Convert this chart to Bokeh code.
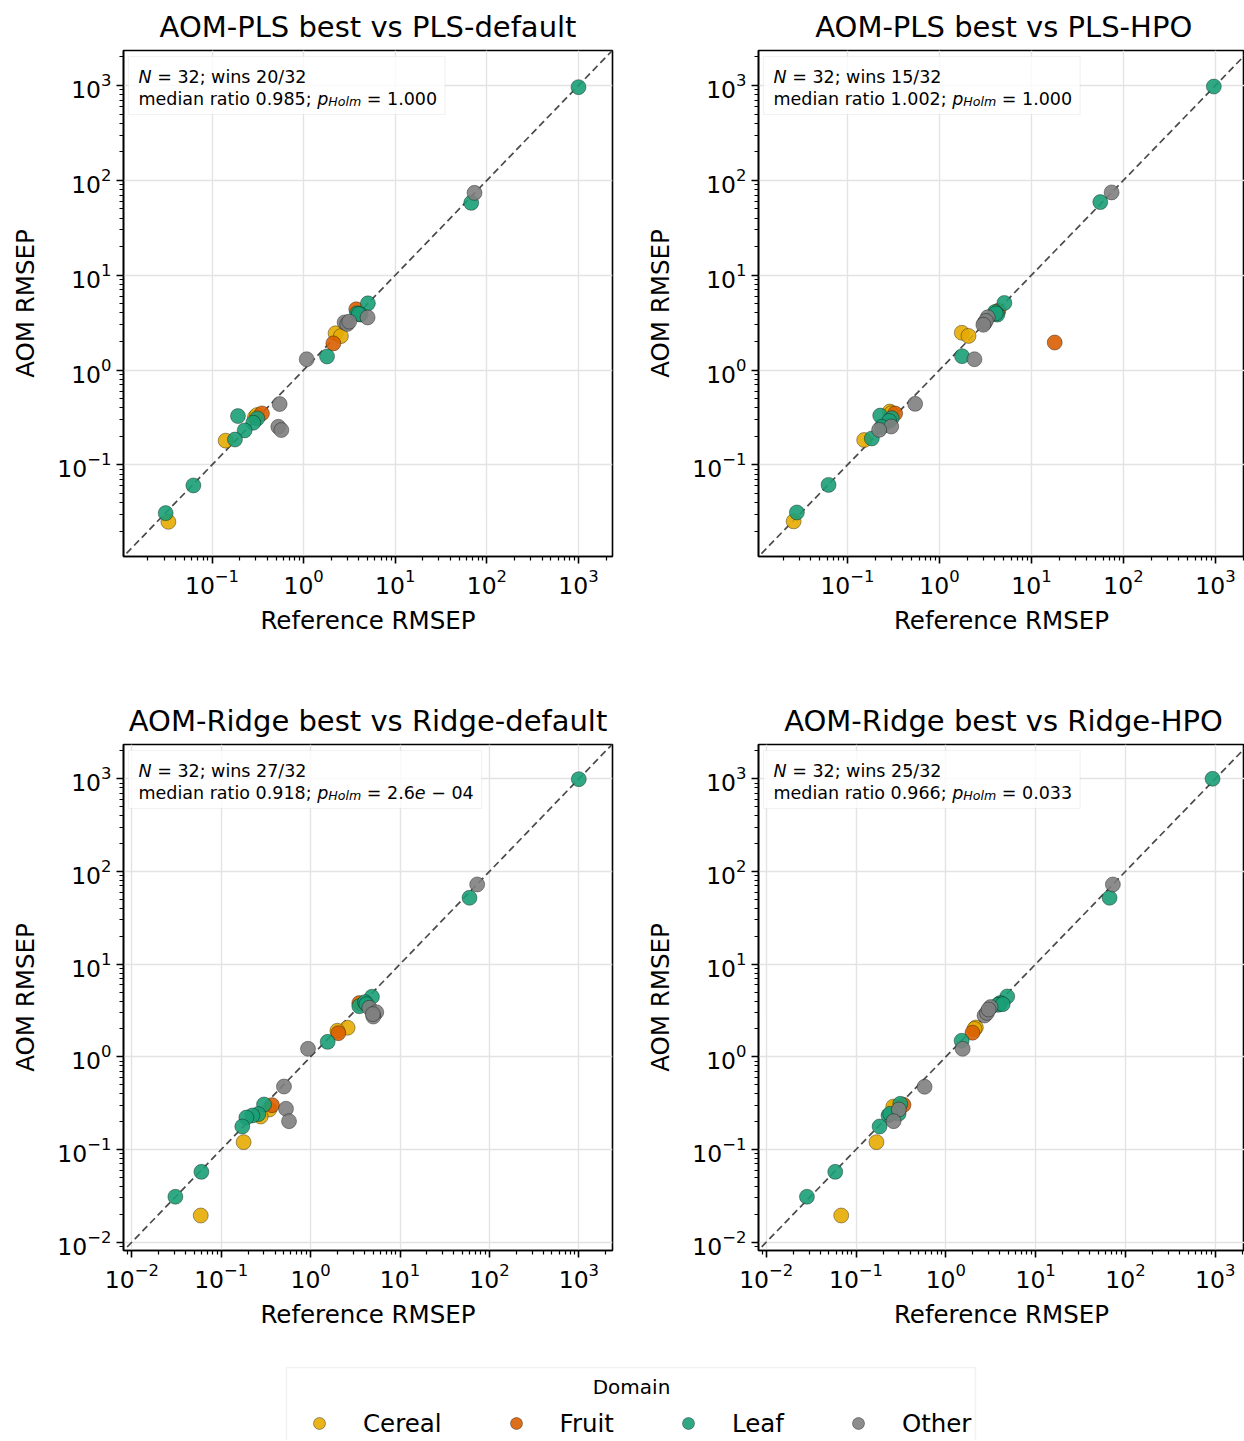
from bokeh.plotting import figure
from bokeh.models import (Range1d, FixedTicker, Label, BoxAnnotation, Legend,
                          LegendItem, ColumnDataSource)
from bokeh.layouts import column, row
from bokeh.embed import file_html
from bokeh.resources import INLINE

FONT = "DejaVu Sans"
DOMAINS = ["Cereal", "Fruit", "Leaf", "Other"]
COLORS = ["#E6AB02", "#D95F02", "#1B9E77", "#808080"]

TITLES = ["AOM-PLS best vs PLS-default", "AOM-PLS best vs PLS-HPO",
          "AOM-Ridge best vs Ridge-default", "AOM-Ridge best vs Ridge-HPO"]
N_DATASETS = ["32", "32", "32", "32"]
WINS = ["20/32", "15/32", "27/32", "25/32"]
MEDIAN_RATIO = ["0.985", "1.002", "0.918", "0.966"]
P_HOLM = ["1.000", "1.000", "2.6*e* \u2212 04", "0.033"]

C, F, L, O = "Cereal", "Fruit", "Leaf", "Other"

# ---- AOM-PLS best vs PLS-default
pls_def_ref = [2.23, 2.55, 0.294, 0.31, 0.141, 0.0334,
               3.75, 2.11, 0.351,
               1000, 67.5, 5.03, 3.84, 4.19, 4.0, 1.80, 0.192, 0.312, 0.282, 0.227, 0.178, 0.0626, 0.0312,
               73.3, 4.99, 2.80, 2.99, 3.15, 1.08, 0.547, 0.529, 0.571]
pls_def_aom = [2.44, 2.28, 0.317, 0.335, 0.180, 0.0251,
               4.37, 1.91, 0.349,
               961, 57.9, 5.05, 3.96, 3.84, 3.9, 1.39, 0.327, 0.309, 0.278, 0.231, 0.185, 0.0607, 0.031,
               73.8, 3.59, 3.18, 3.06, 3.24, 1.30, 0.438, 0.252, 0.233]
pls_def_dom = [C] * 6 + [F] * 3 + [L] * 14 + [O] * 9

# ---- AOM-PLS best vs PLS-HPO
pls_hpo_ref = [1.75, 2.07, 0.289, 0.30, 0.152, 0.026,
               4.37, 17.9, 0.330,
               961, 56.0, 5.08, 4.26, 4.02, 4.1, 1.76, 0.227, 0.303, 0.284, 0.236, 0.184, 0.0623, 0.0282,
               74.4, 3.35, 3.08, 3.2, 3.0, 2.40, 0.544, 0.299, 0.221]
pls_hpo_aom = [2.47, 2.29, 0.365, 0.35, 0.183, 0.0254,
               4.23, 1.95, 0.348,
               975, 59.0, 5.10, 3.84, 4.10, 3.95, 1.40, 0.331, 0.311, 0.291, 0.252, 0.190, 0.0615, 0.0315,
               74.6, 3.60, 3.12, 3.3, 3.0, 1.30, 0.440, 0.254, 0.234]
pls_hpo_dom = [C] * 6 + [F] * 3 + [L] * 14 + [O] * 9

# ---- AOM-Ridge best vs Ridge-default
ridge_def_ref = [2.59, 1.99, 0.345, 0.276, 0.178, 0.059,
                 3.50, 2.04, 0.370,
                 998, 59.8, 4.85, 3.50, 4.05, 4.2, 1.55, 0.301, 0.260, 0.223, 0.191, 0.172, 0.060, 0.0307,
                 72.9, 4.53, 5.42, 5.02, 4.97, 0.934, 0.503, 0.530, 0.573]
ridge_def_aom = [2.06, 1.91, 0.270, 0.227, 0.120, 0.0194,
                 3.80, 1.80, 0.301,
                 991, 52.0, 4.44, 3.52, 3.89, 3.7, 1.45, 0.306, 0.241, 0.233, 0.221, 0.177, 0.0574, 0.0309,
                 72.4, 3.38, 3.03, 2.72, 2.89, 1.22, 0.478, 0.275, 0.202]
ridge_def_dom = [C] * 6 + [F] * 3 + [L] * 14 + [O] * 9

# ---- AOM-Ridge best vs Ridge-HPO
ridge_hpo_ref = [2.16, 2.08, 0.273, 0.26, 0.169, 0.0684,
                 1.98, 3.96, 0.338,
                 934, 66.6, 4.83, 4.03, 3.80, 4.3, 1.50, 0.311, 0.298, 0.230, 0.24, 0.183, 0.0587, 0.0284,
                 72.5, 3.15, 2.70, 2.87, 2.99, 1.54, 0.580, 0.30, 0.262]
ridge_hpo_aom = [2.07, 2.00, 0.286, 0.29, 0.120, 0.0194,
                 1.82, 3.71, 0.303,
                 1000, 52.0, 4.48, 3.80, 3.64, 3.7, 1.49, 0.311, 0.243, 0.233, 0.243, 0.177, 0.0574, 0.0309,
                 72.4, 3.44, 2.79, 2.98, 3.24, 1.22, 0.475, 0.270, 0.202]
ridge_hpo_dom = [C] * 6 + [F] * 3 + [L] * 14 + [O] * 9

MAJOR = [1e-2, 1e-1, 1e0, 1e1, 1e2, 1e3]
MINOR = [k * 10.0 ** e for e in range(-3, 4) for k in range(2, 10)]

# DejaVu Sans advance widths (per 1000 em)
WID = {' ': 318, '.': 318, '/': 337, ';': 337, '=': 838, '\u2212': 838, '-': 361,
       'A': 684, 'H': 752, 'L': 557, 'M': 863, 'N': 748, 'O': 787, 'P': 603, 'R': 695,
       'S': 635, 'a': 613, 'b': 635, 'd': 635, 'e': 615, 'f': 352, 'g': 635, 'i': 278,
       'l': 278, 'm': 974, 'n': 634, 'o': 612, 'p': 635, 'r': 411, 's': 521, 't': 392,
       'u': 634, 'v': 592, 'w': 818}


def tw(s, size):
    return sum(WID.get(ch, 636) for ch in s) / 1000.0 * size


def add_rich(p, x, y, segments):
    cx = x
    for text, style, size, dy in segments:
        stripped = text.lstrip(' ')
        cx += tw(text[:len(text) - len(stripped)], size)
        body = stripped.rstrip(' ')
        if body:
            p.add_layout(Label(x=cx, y=y + dy, x_units="screen", y_units="screen",
                               text=body, text_font=FONT, text_font_size=f"{size}px",
                               text_font_style=style, text_baseline="alphabetic",
                               text_align="left", text_color="black"))
        cx += tw(stripped, size)
    return cx - x


def parse_italic(s, size):
    out = []
    for i, part in enumerate(s.split('*')):
        if part:
            out.append((part, "italic" if i % 2 else "normal", size, 0))
    return out


def make_panel(idx, ref, aom, dom, xlo, xhi, ylo, yhi, width, height,
               bl, br, bt, bb, full_span=None):
    fs = 17.5
    p = figure(width=width, height=height, x_axis_type="log", y_axis_type="log",
               x_range=Range1d(10 ** xlo, 10 ** xhi), y_range=Range1d(10 ** ylo, 10 ** yhi),
               min_border_left=bl, min_border_right=br, min_border_top=bt, min_border_bottom=bb,
               toolbar_location=None, output_backend="svg",
               background_fill_color="white", border_fill_color="white")
    p.title.text = TITLES[idx]
    p.title.text_font = FONT
    p.title.text_font_size = "29px"
    p.title.text_font_style = "normal"
    p.title.text_color = "black"
    p.title.standoff = 14
    frame_w = width - bl - br
    if full_span is not None:
        full_w = frame_w * full_span / (xhi - xlo)
        p.title.align = "left"
        p.title.offset = full_w / 2 - tw(TITLES[idx], 29) / 2
    else:
        p.title.align = "center"
    p.outline_line_color = "black"
    p.outline_line_width = 1.6
    p.outline_line_alpha = 1.0

    tick = FixedTicker(ticks=MAJOR, minor_ticks=MINOR)
    for ax in (p.xaxis[0], p.yaxis[0]):
        ax.ticker = tick
        ax.axis_line_width = 1.6
        ax.axis_line_color = "black"
        ax.major_tick_line_width = 1.6
        ax.major_tick_line_color = "black"
        ax.major_tick_out = 7
        ax.major_tick_in = 0
        ax.minor_tick_line_width = 1.2
        ax.minor_tick_line_color = "black"
        ax.minor_tick_out = 4
        ax.minor_tick_in = 0
        ax.major_label_text_font = FONT
        ax.major_label_text_font_size = "23.5px"
        ax.major_label_text_color = "black"
        ax.major_label_standoff = 5
        ax.axis_label_text_font = FONT
        ax.axis_label_text_font_size = "24.5px"
        ax.axis_label_text_font_style = "normal"
        ax.axis_label_text_color = "black"
    p.xaxis[0].axis_label_standoff = 9
    p.yaxis[0].axis_label_standoff = 14
    p.xaxis[0].axis_label = "Reference RMSEP"
    p.yaxis[0].axis_label = "AOM RMSEP"
    for g in (p.xgrid[0], p.ygrid[0]):
        g.ticker = tick
        g.grid_line_color = "#e3e3e3"
        g.grid_line_width = 1.4

    lo = 10 ** min(xlo, ylo) / 2
    hi = 10 ** max(xhi, yhi) * 2
    p.line([lo, hi], [lo, hi], line_color="#4a4a4a", line_width=1.7, line_dash="7 4")

    for d, col in zip(DOMAINS, COLORS):
        xs = [r for r, dd in zip(ref, dom) if dd == d]
        ys = [a for a, dd in zip(aom, dom) if dd == d]
        p.scatter(xs, ys, marker="circle", size=15, fill_color=col, fill_alpha=0.9,
                  line_color="black", line_alpha=0.6, line_width=0.6)

    # stats box
    frame_h = height - bt - bb
    tx = 15
    base1 = frame_h - 26.7
    base2 = frame_h - 48.3
    line1 = [("N", "italic", fs, 0), (" = " + N_DATASETS[idx] + "; wins " + WINS[idx], "normal", fs, 0)]
    line2 = [("median ratio " + MEDIAN_RATIO[idx] + "; ", "normal", fs, 0),
             ("p", "italic", fs, 0), ("Holm", "italic", 12.6, -3)]
    line2 += parse_italic(" = " + P_HOLM[idx], fs)
    w1 = sum(tw(t, s) for t, _, s, _ in line1)
    w2 = sum(tw(t, s) for t, _, s, _ in line2)
    box = BoxAnnotation(left=5, right=tx + max(w1, w2) + 8, top=frame_h - 6, bottom=frame_h - 64,
                        left_units="screen", right_units="screen",
                        top_units="screen", bottom_units="screen",
                        fill_color="white", fill_alpha=0.8,
                        line_color="#d5d5d5", line_width=1.2)
    p.add_layout(box)
    add_rich(p, tx, base1, line1)
    add_rich(p, tx, base2, line2)
    return p


TOP_Y = (-1.966, 3.369)
BOT_Y = (-2.09, 3.37)
p1 = make_panel(0, pls_def_ref, pls_def_aom, pls_def_dom, -1.966, 3.371, *TOP_Y,
                643, 660, 123, 31, 50, 104)
p2 = make_panel(1, pls_hpo_ref, pls_hpo_aom, pls_hpo_dom, -1.967, 3.316, *TOP_Y,
                601, 660, 115, 0, 50, 104, full_span=5.337)
p3 = make_panel(2, ridge_def_ref, ridge_def_aom, ridge_def_dom, -2.093, 3.376, *BOT_Y,
                643, 675, 123, 31, 84, 85)
p4 = make_panel(3, ridge_hpo_ref, ridge_hpo_aom, ridge_hpo_dom, -2.086, 3.326, *BOT_Y,
                601, 675, 115, 0, 84, 85, full_span=5.462)

# legend strip
LEG_H = 105
lg = figure(width=1244, height=LEG_H, x_range=Range1d(0, 1), y_range=Range1d(0, 1),
            min_border=0, min_border_left=0, min_border_right=0, min_border_top=0,
            min_border_bottom=0, toolbar_location=None, output_backend="svg",
            x_axis_location=None, y_axis_location=None, outline_line_color=None)
lg.grid.visible = False
lg.add_layout(BoxAnnotation(left=286, right=975, top=LEG_H - 32, bottom=-20,
                            left_units="screen", right_units="screen",
                            top_units="screen", bottom_units="screen",
                            fill_color="white", fill_alpha=1.0,
                            line_color="#d3d3d3", line_width=1.6))
items = []
for d, col in zip(DOMAINS, COLORS):
    src = ColumnDataSource(data=dict(x=[float("nan")], y=[float("nan")]))
    r = lg.scatter(x="x", y="y", source=src, marker="circle", fill_color=col, fill_alpha=0.9,
                   line_color="black", line_alpha=0.6, line_width=0.6)
    items.append(LegendItem(label=d, renderers=[r]))
legend = Legend(items=items, orientation="horizontal", location=(304, 2),
                glyph_width=30, glyph_height=30, label_standoff=29, spacing=59,
                padding=0, margin=0, border_line_color=None, background_fill_alpha=0,
                label_text_font=FONT, label_text_font_size="24.5px", label_text_color="black")
lg.add_layout(legend)
lg.add_layout(Label(x=631, y=LEG_H - 51, x_units="screen", y_units="screen", text="Domain",
                    text_font=FONT, text_font_size="20px", text_align="center",
                    text_baseline="middle", text_color="black"))

layout = column(row(p1, p2), row(p3, p4), lg)
open("out.html", "w").write(file_html(layout, INLINE))
